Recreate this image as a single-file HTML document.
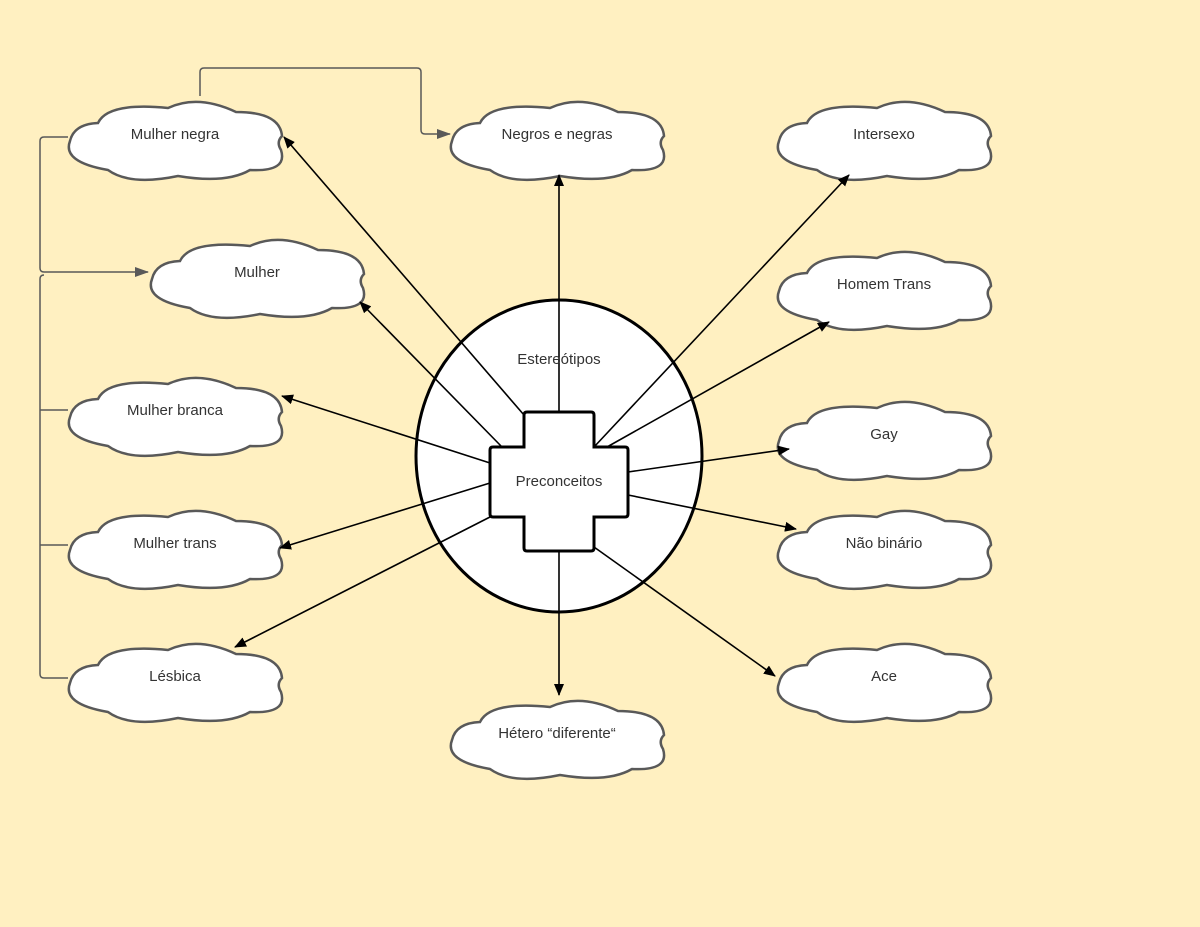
<!DOCTYPE html>
<html><head><meta charset="utf-8"><style>
html,body{margin:0;padding:0;background:#fff0c1;}
svg{display:block;}
text{font-family:"Liberation Sans",sans-serif;font-size:15px;fill:#333;text-anchor:middle;}
</style></head><body>
<svg width="1200" height="927" viewBox="0 0 1200 927" xmlns="http://www.w3.org/2000/svg">
<defs>
<path id="cl" d="M30,27 Q40,6 100,12 Q130,-2 168,16 Q212,16 214,40 Q208,46 213,54 Q220,76 182,74 Q158,88 110,80 Q62,90 40,74 Q-6,66 2,45 Q6,28 30,27 Z" fill="#fff" stroke="#595959" stroke-width="2.5"/>
<marker id="ab" markerWidth="12" markerHeight="10" refX="11" refY="5" orient="auto" markerUnits="userSpaceOnUse"><path d="M0,0 L12,5 L0,10 Z" fill="#000"/></marker>
<marker id="ag" markerWidth="14" markerHeight="10" refX="13" refY="5" orient="auto" markerUnits="userSpaceOnUse"><path d="M0,0 L14,5 L0,10 Z" fill="#595959"/></marker>
</defs>
<g fill="none" stroke="#595959" stroke-width="1.5">
<path d="M200,96 V72 Q200,68 204,68 H417 Q421,68 421,72 V130 Q421,134 425,134 H450" marker-end="url(#ag)"/>
<path d="M68,137 H44 Q40,137 40,141 V268 Q40,272 44,272 H148" marker-end="url(#ag)"/>
<path d="M44,275 Q40,275 40,279 V674 Q40,678 44,678 H68"/>
<path d="M40,410 H68 M40,545 H68"/>
</g>
<use href="#cl" x="68" y="96"/><text x="175" y="139">Mulher negra</text>
<use href="#cl" x="450" y="96"/><text x="557" y="139">Negros e negras</text>
<use href="#cl" x="777" y="96"/><text x="884" y="139">Intersexo</text>
<use href="#cl" x="150" y="234"/><text x="257" y="277">Mulher</text>
<use href="#cl" x="777" y="246"/><text x="884" y="289">Homem Trans</text>
<use href="#cl" x="68" y="372"/><text x="175" y="415">Mulher branca</text>
<use href="#cl" x="777" y="396"/><text x="884" y="439">Gay</text>
<use href="#cl" x="68" y="505"/><text x="175" y="548">Mulher trans</text>
<use href="#cl" x="777" y="505"/><text x="884" y="548">Não binário</text>
<use href="#cl" x="68" y="638"/><text x="175" y="681">Lésbica</text>
<use href="#cl" x="777" y="638"/><text x="884" y="681">Ace</text>
<use href="#cl" x="450" y="695"/><text x="557" y="738">Hétero “diferente“</text>
<ellipse cx="559" cy="456" rx="143" ry="156" fill="#fff" stroke="#000" stroke-width="3"/>
<g stroke="#000" stroke-width="1.6" fill="none" marker-end="url(#ab)">
<line x1="524" y1="415" x2="284" y2="137"/>
<line x1="502" y1="447" x2="360" y2="302"/>
<line x1="490" y1="463" x2="282" y2="396"/>
<line x1="490" y1="483" x2="280" y2="548"/>
<line x1="490" y1="517" x2="235" y2="647"/>
<line x1="559" y1="412" x2="559" y2="175"/>
<line x1="559" y1="551" x2="559" y2="695"/>
<line x1="594" y1="447" x2="849" y2="175"/>
<line x1="607" y1="447" x2="829" y2="322"/>
<line x1="628" y1="472" x2="789" y2="449"/>
<line x1="628" y1="495" x2="796" y2="529"/>
<line x1="594" y1="547" x2="775" y2="676"/>
</g>
<path d="M527,412 H591 Q594,412 594,415 V447 H625 Q628,447 628,450 V514 Q628,517 625,517 H594 V548 Q594,551 591,551 H527 Q524,551 524,548 V517 H493 Q490,517 490,514 V450 Q490,447 493,447 H524 V415 Q524,412 527,412 Z" fill="#fff" stroke="#000" stroke-width="3"/>
<text x="559" y="364">Estereótipos</text>
<text x="559" y="486">Preconceitos</text>
</svg>
</body></html>
